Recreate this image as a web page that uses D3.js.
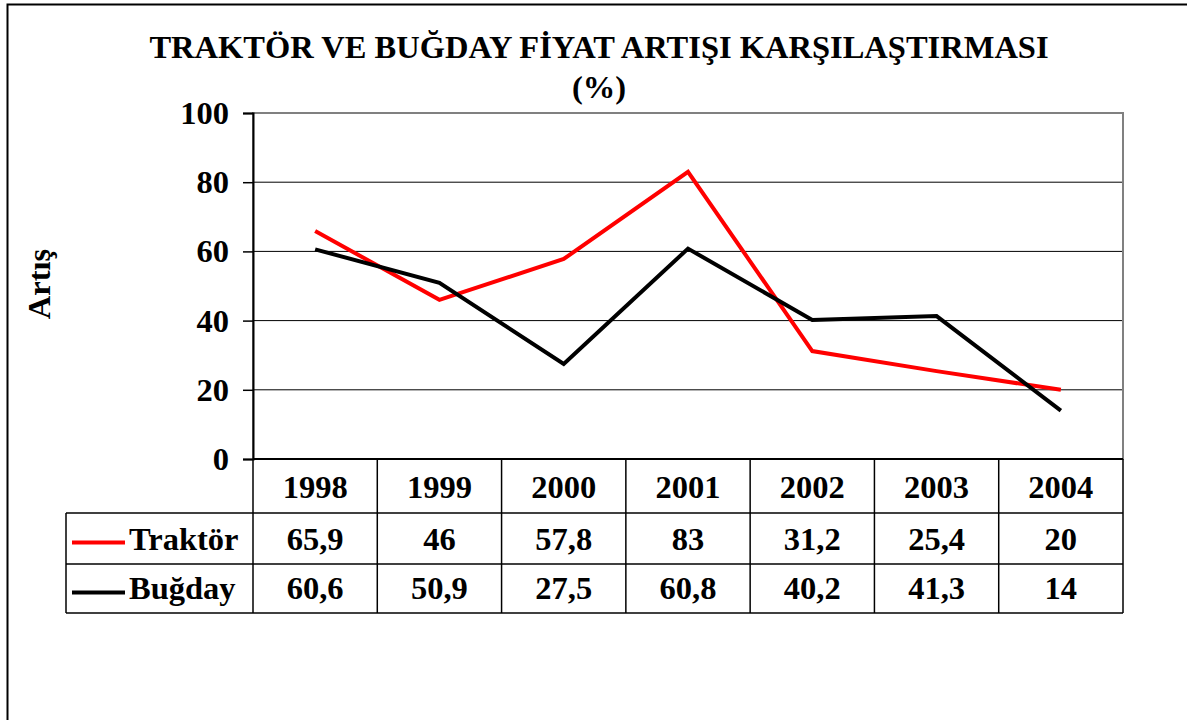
<!DOCTYPE html>
<html>
<head>
<meta charset="utf-8">
<script src="https://cdn.jsdelivr.net/npm/d3@7/dist/d3.min.js"></script>
<style>
  html, body { margin: 0; padding: 0; background: #fff; }
  svg { display: block; }
  text { font-family: "Liberation Serif", "Times New Roman", serif; font-weight: bold; fill: #000; }
</style>
</head>
<body>
<svg id="chart" width="1187" height="720"></svg>
<script>
// Yıllar ve seriler
const years = ["1998", "1999", "2000", "2001", "2002", "2003", "2004"];
const traktor = [65.9, 46, 57.8, 83, 31.2, 25.4, 20];
const bugday = [60.6, 50.9, 27.5, 60.8, 40.2, 41.3, 14];
const seriesNames = ["Traktör", "Buğday"];
const seriesColors = ["#ff0000", "#000000"];
const yTicks = [0, 20, 40, 60, 80, 100];
const fmt = v => String(v).replace(".", ",");

const FS = 32.5;
const svg = d3.select("#chart");

// Dış çerçeve
svg.append("rect").attr("x", 7.5).attr("y", 4.5).attr("width", 1200).attr("height", 800)
  .attr("fill", "none").attr("stroke", "#000").attr("stroke-width", 2);

const plot = { left: 253, right: 1123, top: 113, bottom: 459 };
const tableLeft = 66;
const rowBottoms = [513, 564, 613];

const x = d3.scaleBand().domain(years).range([plot.left, plot.right]).padding(0);
const y = d3.scaleLinear().domain([0, 100]).range([plot.bottom, plot.top]);

// Başlık
svg.append("text").attr("x", 599).attr("y", 58).attr("text-anchor", "middle")
  .attr("font-size", FS).text("TRAKTÖR VE BUĞDAY FİYAT ARTIŞI KARŞILAŞTIRMASI");
svg.append("text").attr("x", 599).attr("y", 98).attr("text-anchor", "middle")
  .attr("font-size", FS).text("(%)");

// Izgara çizgileri
svg.append("g").selectAll("line").data(yTicks.filter(t => t > 0 && t < 100)).join("line")
  .attr("x1", plot.left).attr("x2", plot.right)
  .attr("y1", d => y(d)).attr("y2", d => y(d))
  .attr("stroke", "#000").attr("stroke-width", 1);

// Çizim alanı çerçevesi
svg.append("rect").attr("x", plot.left).attr("y", plot.top)
  .attr("width", plot.right - plot.left).attr("height", plot.bottom - plot.top)
  .attr("fill", "none").attr("stroke", "#808080").attr("stroke-width", 2);

// Y ekseni
const yAxis = svg.append("g").attr("transform", `translate(${plot.left},0)`)
  .call(d3.axisLeft(y).tickValues(yTicks).tickSize(10).tickPadding(14));
yAxis.select(".domain").attr("stroke", "#000").attr("stroke-width", 2);
yAxis.selectAll(".tick line").attr("stroke", "#000").attr("stroke-width", 1.5);
yAxis.selectAll(".tick text").attr("font-size", FS)
  .attr("font-family", "Liberation Serif, serif").attr("font-weight", "bold").attr("fill", "#000");

// Eksen başlığı
svg.append("text").attr("transform", `translate(50,${(plot.top + plot.bottom) / 2 - 2}) rotate(-90)`)
  .attr("text-anchor", "middle").attr("font-size", FS).text("Artış");

// Veri tablosu
const tbl = svg.append("g").attr("stroke", "#000").attr("stroke-width", 1.5);
tbl.append("line").attr("x1", plot.left).attr("x2", plot.right).attr("y1", plot.bottom).attr("y2", plot.bottom).attr("stroke-width", 2);
rowBottoms.forEach(rb => {
  tbl.append("line").attr("x1", tableLeft).attr("x2", plot.right).attr("y1", rb).attr("y2", rb);
});
tbl.append("line").attr("x1", tableLeft).attr("x2", tableLeft).attr("y1", rowBottoms[0]).attr("y2", rowBottoms[2]);
years.forEach(yr => {
  tbl.append("line").attr("x1", x(yr)).attr("x2", x(yr)).attr("y1", plot.bottom).attr("y2", rowBottoms[2]);
});
tbl.append("line").attr("x1", plot.right).attr("x2", plot.right).attr("y1", plot.bottom).attr("y2", rowBottoms[2]);

// Yıl başlıkları
svg.append("g").selectAll("text").data(years).join("text")
  .attr("x", d => x(d) + x.bandwidth() / 2).attr("y", 498)
  .attr("text-anchor", "middle").attr("font-size", FS).text(d => d);

// Tablo değerleri ve lejant
const rows = [traktor, bugday];
rows.forEach((vals, r) => {
  const ty = rowBottoms[r + 1] - 14;
  svg.append("g").selectAll("text").data(vals).join("text")
    .attr("x", (d, i) => x(years[i]) + x.bandwidth() / 2).attr("y", ty)
    .attr("text-anchor", "middle").attr("font-size", FS).text(d => fmt(d));
  const ly = (rowBottoms[r] + rowBottoms[r + 1]) / 2 + 4;
  svg.append("line").attr("x1", 72).attr("x2", 125).attr("y1", ly).attr("y2", ly)
    .attr("stroke", seriesColors[r]).attr("stroke-width", 4);
  svg.append("text").attr("x", 129).attr("y", ty).attr("font-size", FS).text(seriesNames[r]);
});

// Seri çizgileri
const line = d3.line().x((d, i) => x(years[i]) + x.bandwidth() / 2).y(d => y(d));
rows.forEach((vals, r) => {
  svg.append("path").datum(vals).attr("d", line)
    .attr("fill", "none").attr("stroke", seriesColors[r]).attr("stroke-width", 4)
    .attr("stroke-linejoin", "miter");
});
</script>
</body>
</html>
